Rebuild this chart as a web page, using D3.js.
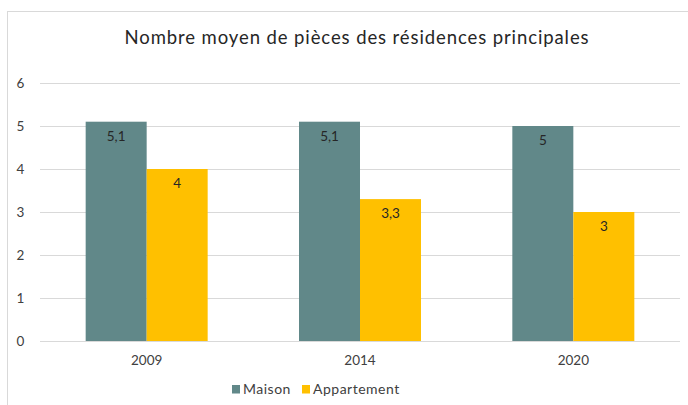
<!DOCTYPE html>
<html><head><meta charset="utf-8">
<script src="https://cdn.jsdelivr.net/npm/d3@7"></script>
<style>body{margin:0;background:#fff}svg{display:block;font-family:"Lato","Open Sans",sans-serif}</style>
</head><body><svg id="c" width="688" height="405"></svg>
<script>
const title = "Nombre moyen de pièces des résidences principales";
const years = ["2009", "2014", "2020"];
const seriesNames = ["Maison", "Appartement"];
const maison = [5.1, 5.1, 5];
const appartement = [4, 3.3, 3];
const yTicks = [0, 1, 2, 3, 4, 5, 6];
const colors = ["#618889", "#FFC000"];

const svg = d3.select("#c");
svg.append("rect").attr("x", 7.5).attr("y", 11.5).attr("width", 700).attr("height", 420)
  .attr("fill", "#fff").attr("stroke", "#d9d9d9");

const x = d3.scaleBand().domain(years).range([40, 680]).paddingInner(0).paddingOuter(0);
const y = d3.scaleLinear().domain([0, 6]).range([341, 83]);
const inner = d3.scaleBand().domain(seriesNames).range([0, 122]);

svg.append("text").attr("x", 357).attr("y", 44).attr("text-anchor", "middle")
  .attr("font-size", 18.5).attr("letter-spacing", 0.9).attr("fill", "#262626").text(title);

const g = svg.append("g");
g.selectAll("line.grid").data(yTicks).join("line").attr("class", "grid")
  .attr("x1", 40).attr("x2", 680).attr("y1", d => Math.round(y(d)) + 0.5).attr("y2", d => Math.round(y(d)) + 0.5)
  .attr("stroke", "#d9d9d9").attr("stroke-width", 1);
g.selectAll("text.yt").data(yTicks).join("text").attr("class", "yt")
  .attr("x", 20.5).attr("y", d => y(d) + 5).attr("text-anchor", "middle")
  .attr("font-size", 13.5).attr("fill", "#404040").text(d => d);

const data = years.map((yr, i) => ({ yr, vals: [maison[i], appartement[i]] }));
const grp = g.selectAll("g.cat").data(data).join("g").attr("class", "cat")
  .attr("transform", d => `translate(${x(d.yr) + (x.bandwidth() - 122) / 2},0)`);
grp.selectAll("rect").data(d => d.vals.map((v, j) => ({ v, s: seriesNames[j], j }))).join("rect")
  .attr("x", d => inner(d.s)).attr("width", inner.bandwidth())
  .attr("y", d => y(d.v)).attr("height", d => y(0) - y(d.v))
  .attr("fill", d => colors[d.j]);
grp.selectAll("text").data(d => d.vals.map((v, j) => ({ v, s: seriesNames[j], j }))).join("text")
  .attr("x", d => inner(d.s) + inner.bandwidth() / 2).attr("y", d => y(d.v) + 19)
  .attr("text-anchor", "middle").attr("font-size", 13.5).attr("fill", "#262626")
  .text(d => String(d.v).replace(".", ","));

g.append("line").attr("x1", 40).attr("x2", 680).attr("y1", Math.round(y(0)) + 0.5).attr("y2", Math.round(y(0)) + 0.5)
  .attr("stroke", "#d9d9d9");

g.selectAll("text.xt").data(years).join("text").attr("class", "xt")
  .attr("x", d => x(d) + x.bandwidth() / 2).attr("y", 365).attr("text-anchor", "middle")
  .attr("font-size", 13.5).attr("fill", "#404040").text(d => d);

const legend = svg.append("g");
const lx = [232, 302];
seriesNames.forEach((s, i) => {
  legend.append("rect").attr("x", lx[i]).attr("y", 385).attr("width", 8).attr("height", 8.5).attr("fill", colors[i]);
  legend.append("text").attr("x", lx[i] + 11).attr("y", 394).attr("font-size", 14).attr("letter-spacing", 0.5)
    .attr("fill", "#404040").text(s);
});
</script></body></html>
